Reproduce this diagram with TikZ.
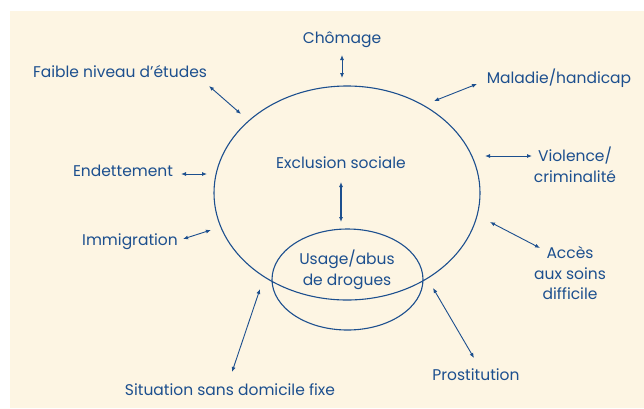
\documentclass[tikz,border=0pt]{standalone}
\usepackage{fontspec}
\setmainfont{Poppins}
\usetikzlibrary{arrows.meta}
\definecolor{cream}{HTML}{FDF5E3}
\definecolor{navy}{HTML}{1C4F8E}
\begin{document}
\begin{tikzpicture}[x=1pt,y=-1pt,
  lbl/.style={text=navy,font=\fontsize{15.5}{20.5}\selectfont,inner sep=0pt,align=center},
  link/.style={draw=navy,line width=0.9pt,{Latex[length=5pt,width=4pt]}-{Latex[length=5pt,width=4pt]}},
  ring/.style={draw=navy,line width=1.1pt}]
\useasboundingbox (0,0) rectangle (644,408);
\fill[white] (0,0) rectangle (644,408);
\fill[cream] (10,11) rectangle (644,408);
\draw[ring] (347,193) ellipse [x radius=133, y radius=107];
\draw[ring] (347.5,279.5) ellipse [x radius=75.5, y radius=50.5];
\node[lbl] (cho) at (342,40) {Chômage};
\node[lbl] (fai) at (120,72) {Faible niveau d’études};
\node[lbl] (mal) at (559,78) {Maladie/handicap};
\node[lbl] (vio) at (575,165) {Violence/\\criminalité};
\node[lbl] (end) at (123,171) {Endettement};
\node[lbl] (exc) at (341,163) {Exclusion sociale};
\node[lbl] (imm) at (130,242) {Immigration};
\node[lbl] (acc) at (570,273) {Accès\\aux soins\\difficile};
\node[lbl] (usa) at (347,270) {Usage/abus\\de drogues};
\node[lbl] (sit) at (230,390) {Situation sans domicile fixe};
\node[lbl] (pro) at (476,375) {Prostitution};
\coordinate (c1) at (342,55); \coordinate (c2) at (342,78);
\coordinate (f1) at (209,86); \coordinate (f2) at (241,114);
\coordinate (m1) at (477,84); \coordinate (m2) at (434,101);
\coordinate (v1) at (532,156); \coordinate (v2) at (485,156);
\coordinate (e1) at (181,174); \coordinate (e2) at (207,174);
\coordinate (i1) at (183,239); \coordinate (i2) at (211,230);
\coordinate (a1) at (540,248); \coordinate (a2) at (490,222);
\coordinate (s1) at (232,372); \coordinate (s2) at (260,289);
\coordinate (p1) at (474,358); \coordinate (p2) at (433,288);
\coordinate (x1) at (341,182); \coordinate (x2) at (341,222);
\draw[link] (c1) -- (c2);
\draw[link] (f1) -- (f2);
\draw[link] (m1) -- (m2);
\draw[link] (v1) -- (v2);
\draw[link] (e1) -- (e2);
\draw[link] (i1) -- (i2);
\draw[link] (a1) -- (a2);
\draw[link] (s1) -- (s2);
\draw[link] (p1) -- (p2);
\draw[link,line width=1.7pt] (x1) -- (x2);
\end{tikzpicture}
\end{document}
